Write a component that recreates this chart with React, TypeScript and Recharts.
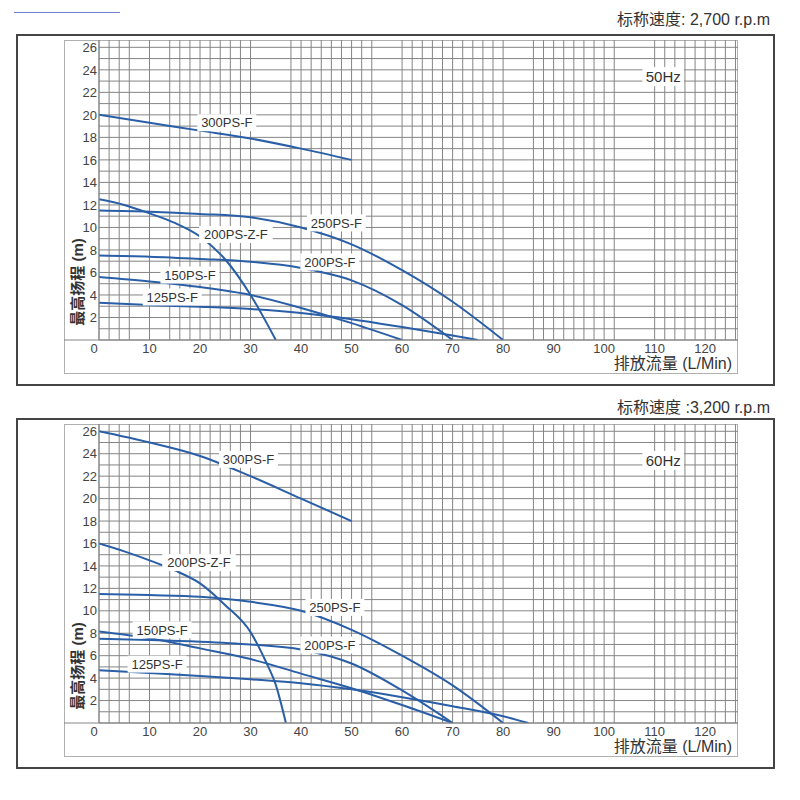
import React from 'react';
import { LineChart, Line, XAxis, YAxis, CartesianGrid, ReferenceLine, ReferenceDot } from 'recharts';

// flow (L/Min), head (m)
type Pair = [number, number];

// 50Hz curves
const curve50_300: Pair[] = [[0, 20], [10, 19.3], [20, 18.6], [30, 17.9], [40, 17.0], [50, 16.0]];
const curve50_200Z: Pair[] = [[0, 12.5], [5, 12.0], [10, 11.25], [15, 10.4], [20, 9.2], [25, 7.15], [30, 4.0], [35, 0]];
const curve50_250: Pair[] = [[0, 11.5], [10, 11.4], [20, 11.2], [30, 10.9], [40, 10.0], [50, 8.5], [60, 6.2], [70, 3.4], [80, 0]];
const curve50_200: Pair[] = [[0, 7.5], [10, 7.4], [20, 7.2], [30, 6.95], [40, 6.4], [50, 5.3], [60, 3.1], [70, 0]];
const curve50_150: Pair[] = [[0, 5.6], [10, 5.2], [20, 4.7], [30, 4.0], [40, 2.85], [50, 1.5], [60, 0]];
const curve50_125: Pair[] = [[0, 3.3], [10, 3.1], [20, 2.95], [30, 2.75], [40, 2.4], [50, 1.85], [60, 1.15], [70, 0.4], [75, 0]];

// 60Hz curves
const curve60_300: Pair[] = [[0, 26], [10, 25.0], [20, 23.8], [30, 22.0], [40, 20.0], [50, 18.0]];
const curve60_200Z: Pair[] = [[0, 16], [5, 15.3], [10, 14.5], [15, 13.6], [20, 12.45], [25, 10.5], [30, 8.1], [33, 5.5], [35, 3.4], [37, 0]];
const curve60_250: Pair[] = [[0, 11.5], [10, 11.4], [20, 11.25], [30, 10.8], [40, 10.0], [50, 8.3], [60, 6.0], [70, 3.35], [80, 0]];
const curve60_200: Pair[] = [[0, 7.5], [10, 7.4], [20, 7.25], [30, 7.0], [40, 6.55], [50, 5.3], [60, 2.9], [70, 0]];
const curve60_150: Pair[] = [[0, 8.15], [10, 7.55], [20, 6.65], [30, 5.7], [40, 4.4], [50, 3.1], [60, 1.6], [70, 0]];
const curve60_125: Pair[] = [[0, 4.7], [10, 4.45], [20, 4.2], [30, 3.9], [40, 3.55], [50, 3.0], [60, 2.3], [70, 1.5], [80, 0.6], [85, 0]];

// curve name tags (flow, head where the tag sits)
const labels50 = [
  { text: '300PS-F', q: 25.3, h: 19.3 },
  { text: '250PS-F', q: 47.0, h: 10.4 },
  { text: '200PS-Z-F', q: 27.1, h: 9.37 },
  { text: '200PS-F', q: 45.7, h: 6.93 },
  { text: '150PS-F', q: 18.0, h: 5.77 },
  { text: '125PS-F', q: 14.5, h: 3.82 },
];
const labels60 = [
  { text: '300PS-F', q: 29.6, h: 23.5 },
  { text: '200PS-Z-F', q: 19.8, h: 14.3 },
  { text: '250PS-F', q: 46.7, h: 10.3 },
  { text: '150PS-F', q: 12.5, h: 8.3 },
  { text: '200PS-F', q: 45.7, h: 6.95 },
  { text: '125PS-F', q: 11.5, h: 5.25 },
];

const xTicks = [0, 10, 20, 30, 40, 50, 60, 70, 80, 90, 100, 110, 120];
const yTicks = [2, 4, 6, 8, 10, 12, 14, 16, 18, 20, 22, 24, 26];
const gridX = [0, 2, 4, 6, 10, 14, 16, 18, 20, 22, 24, 26, 28, 30, 38, 40, 42, 44, 46, 48, 50, 52, 54,
  60, 62, 64, 66, 68, 70, 72, 74, 76, 78, 80, 86, 88, 90, 92, 94, 96, 98, 100, 102,
  110, 112, 114, 116, 118, 120, 122, 124, 126];
const gridY = [1, 2, 3, 4, 5, 6, 7, 8, 9, 10, 11, 12, 13, 14, 15, 16, 17, 18, 19, 20, 21, 22, 23, 24, 25, 26];

const X_MAX = 126.5;
const Y_MAX = 26.65;
const BLUE = '#2a5fa8';
const GRID = '#858585';
const FONT = "'Liberation Sans', Arial, 'Noto Sans CJK SC', sans-serif";

const toPoints = (c: Pair[]) => c.map(([q, h]) => ({ q, h }));

// run grid values through the axis scale handed over by the grid
const applyScale = (axis: any, values: number[]) => {
  const s = axis?.scale;
  if (typeof s === 'function') return values.map((v) => s(v));
  if (s && typeof s.map === 'function') return values.map((v) => s.map(v));
  return [];
};

function TagBox({ cx, cy, text, size = 13 }: { cx: number; cy: number; text: string; size?: number }) {
  const w = text.length * size * 0.56 + 8;
  const hgt = size + 4;
  return (
    <g>
      <rect x={cx - w / 2} y={cy - hgt / 2} width={w} height={hgt} fill="#fff" />
      <text x={cx} y={cy} dy="0.36em" textAnchor="middle" fontSize={size} fill="#333" fontFamily={FONT}>
        {text}
      </text>
    </g>
  );
}

function XTick(props: any) {
  const { x, y, payload } = props;
  const shift = payload.value === 0 ? -5 : 0;
  return (
    <text x={x + shift} y={y} dy={12.5} textAnchor="middle" fontSize={13} fill="#444" fontFamily={FONT}>
      {payload.value}
    </text>
  );
}

function YTick(props: any) {
  const { x, y, payload } = props;
  return (
    <text x={x - 2} y={y} dy="0.36em" textAnchor="end" fontSize={13} fill="#444" fontFamily={FONT}>
      {payload.value}
    </text>
  );
}

interface PanelProps {
  top: number;
  height: number;
  speedTop: number;
  speed: string;
  hz: string;
  curves: Pair[][];
  labels: { text: string; q: number; h: number }[];
}

function Panel({ top, height, speedTop, speed, hz, curves, labels }: PanelProps) {
  return (
    <>
      <div style={{ position: 'absolute', right: 30, top: speedTop, fontSize: 16, lineHeight: '18px', color: '#333', fontFamily: FONT, whiteSpace: 'nowrap' }}>
        {speed}
      </div>
      <div style={{ position: 'absolute', left: 16, top: top - 6, width: 759, height: height + 18, border: '2px solid #444', boxSizing: 'border-box' }} />
      <div style={{ position: 'absolute', left: 64, top, width: 674, height, border: '1px solid #b0b0b0', boxSizing: 'border-box' }} />
      <div style={{ position: 'absolute', left: 64, top }}>
        <LineChart width={674} height={height} margin={{ top: 0, right: 0, bottom: 0, left: 0 }}>
          <CartesianGrid
            stroke={GRID}
            strokeWidth={1}
            verticalCoordinatesGenerator={(a: any) => applyScale(a.xAxis, gridX)}
            horizontalCoordinatesGenerator={(a: any) => applyScale(a.yAxis, gridY)}
          />
          <XAxis
            type="number"
            dataKey="q"
            domain={[0, X_MAX]}
            ticks={xTicks}
            interval={0}
            allowDataOverflow
            height={34}
            tickSize={0}
            tickMargin={0}
            tickLine={false}
            axisLine={{ stroke: GRID }}
            tick={<XTick />}
            label={{
              content: (p: any) => {
                const vb = p.viewBox;
                return (
                  <text x={vb.x + vb.width - 6} y={vb.y + 28.5} textAnchor="end" fontSize={16} fill="#333" fontFamily={FONT}>
                    排放流量 (L/Min)
                  </text>
                );
              },
            }}
          />
          <YAxis
            type="number"
            dataKey="h"
            domain={[0, Y_MAX]}
            ticks={yTicks}
            interval={0}
            allowDataOverflow
            width={35}
            tickSize={0}
            tickMargin={0}
            tickLine={false}
            axisLine={{ stroke: GRID }}
            tick={<YTick />}
            label={{
              content: (p: any) => {
                const vb = p.viewBox;
                const cx = vb.x + 13.5;
                const cy = vb.y + 242;
                return (
                  <text x={cx} y={cy} dy="0.36em" textAnchor="middle" fontSize={15} fontWeight="bold" fill="#333" fontFamily={FONT}
                    transform={`rotate(-90 ${cx} ${cy})`}>
                    最高扬程 (m)
                  </text>
                );
              },
            }}
          />
          <ReferenceLine
            segment={[{ x: -6.93, y: 0 }, { x: X_MAX, y: 0 }]}
            stroke={GRID}
            ifOverflow="visible"
          />
          {curves.map((c, i) => (
            <Line
              key={i}
              data={toPoints(c)}
              dataKey="h"
              type="monotone"
              stroke={BLUE}
              strokeWidth={2}
              dot={false}
              activeDot={false}
              isAnimationActive={false}
            />
          ))}
          {labels.map((l) => (
            <ReferenceDot
              key={l.text}
              x={l.q}
              y={l.h}
              r={0}
              shape={(p: any) => <TagBox cx={p.cx} cy={p.cy} text={l.text} />}
            />
          ))}
          <ReferenceDot x={111.7} y={23.4} r={0} shape={(p: any) => <TagBox cx={p.cx} cy={p.cy} text={hz} size={15} />} />
        </LineChart>
      </div>
    </>
  );
}

export default function App() {
  return (
    <div style={{ position: 'absolute', left: 0, top: 0, width: 800, height: 800, background: '#fff', overflow: 'hidden' }}>
      <div style={{ position: 'absolute', left: 14, top: 12, width: 106, height: 1, background: '#6f7fd2' }} />
      <Panel
        top={40}
        height={334}
        speedTop={11}
        speed="标称速度: 2,700 r.p.m"
        hz="50Hz"
        curves={[curve50_300, curve50_200Z, curve50_250, curve50_200, curve50_150, curve50_125]}
        labels={labels50}
      />
      <Panel
        top={424}
        height={333}
        speedTop={399}
        speed="标称速度 :3,200 r.p.m"
        hz="60Hz"
        curves={[curve60_300, curve60_200Z, curve60_250, curve60_200, curve60_150, curve60_125]}
        labels={labels60}
      />
    </div>
  );
}
